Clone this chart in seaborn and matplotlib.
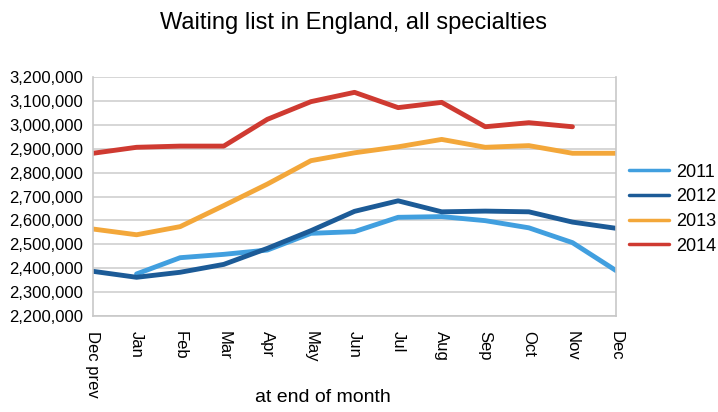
import pandas as pd
import numpy as np
import matplotlib
matplotlib.use('Agg')
import matplotlib.pyplot as plt
import seaborn as sns
from matplotlib.ticker import FuncFormatter
from matplotlib.lines import Line2D

# data
months = ['Dec prev', 'Jan', 'Feb', 'Mar', 'Apr', 'May', 'Jun',
          'Jul', 'Aug', 'Sep', 'Oct', 'Nov', 'Dec']
y2011 = [np.nan, 2376000, 2444000, 2458000, 2476000, 2546000, 2553000,
         2613000, 2616000, 2599000, 2569000, 2507000, 2390000]
y2012 = [2387000, 2362000, 2383000, 2416000, 2483000, 2557000, 2638000,
         2682000, 2636000, 2639000, 2636000, 2593000, 2567000]
y2013 = [2564000, 2540000, 2574000, 2662000, 2752000, 2850000, 2883000,
         2908000, 2939000, 2906000, 2913000, 2881000, 2881000]
y2014 = [2881000, 2906000, 2911000, 2911000, 3023000, 3097000, 3136000,
         3072000, 3094000, 2992000, 3009000, 2992000, np.nan]
years = ['2011', '2012', '2013', '2014']
colors = ['#419fdf', '#1c5b97', '#f3a73a', '#cf3a31']

df = pd.DataFrame({'month': months, '2011': y2011, '2012': y2012,
                   '2013': y2013, '2014': y2014})
df['pos'] = range(len(months))
long = df.melt(id_vars=['month', 'pos'], value_vars=years,
               var_name='year', value_name='value')

sns.set_style('white')
plt.rcParams['font.family'] = ['Liberation Sans', 'DejaVu Sans']
plt.rcParams['text.color'] = 'black'
plt.rcParams['axes.labelcolor'] = 'black'

f = plt.figure(figsize=(7.18, 4.12), dpi=100)
ax = f.add_axes([0.1295, 0.233, 0.7285, 0.58])

sns.lineplot(data=long, x='pos', y='value', hue='year', palette=colors,
             linewidth=3.5, ax=ax, legend=False)

ax.set_xlim(0, len(months) - 1)
ax.set_ylim(2200000, 3200000)
ax.set_yticks(range(2200000, 3200001, 100000))
ax.yaxis.set_major_formatter(FuncFormatter(lambda v, p: f'{int(v):,}'))
ax.set_xticks(range(len(months)))
ax.set_xticklabels(months, rotation=-90, va='top', ha='center')
ax.tick_params(axis='both', labelsize=12, labelcolor='black', length=5,
               width=1, direction='out')
ax.tick_params(axis='x', color='#c8c8c8', pad=6)
ax.tick_params(axis='y', color='#c8c8c8', pad=2)
ax.grid(axis='y', color='#d0d0d0', linewidth=1.2)
for s in ax.spines.values():
    s.set_color('#c8c8c8')
    s.set_linewidth(1.2)
ax.spines['top'].set_visible(False)
ax.set_ylabel('')
ax.set_xlabel('at end of month', fontsize=14)
ax.xaxis.set_label_coords(0.44, -0.305)

f.suptitle('Waiting list in England, all specialties', fontsize=17,
           x=0.492, y=0.97)

handles = [Line2D([0], [0], color=c, linewidth=2.5) for c in colors]
f.legend(handles, years, loc='upper left', bbox_to_anchor=(0.866, 0.62),
         frameon=False, fontsize=13, handlelength=2.2, handletextpad=0.4,
         labelspacing=0.42, borderaxespad=0)

f.savefig('out.png', dpi=100)
